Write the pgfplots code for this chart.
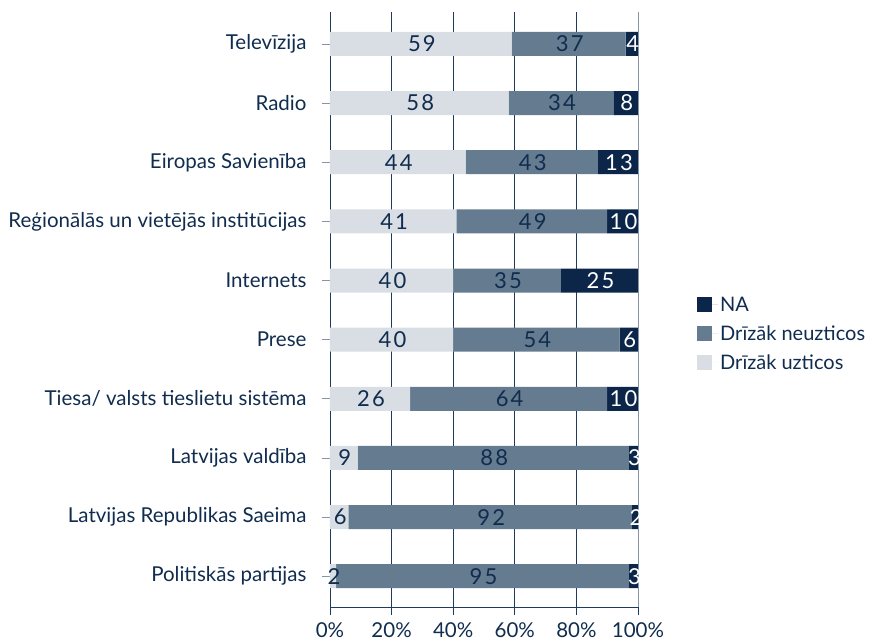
\documentclass[border=0pt]{standalone}
\usepackage{pgfplots}
\pgfplotsset{compat=1.18}
\usepackage{fontspec}
\setmainfont{Lato}
\newfontfamily\numfont[LetterSpace=10]{Lato}
\definecolor{cLight}{HTML}{D9DEE5}
\definecolor{cMid}{HTML}{657B90}
\definecolor{cDark}{HTML}{0B2648}
\definecolor{cGrid}{HTML}{1E3A5C}
\definecolor{cText}{HTML}{102C4E}
\definecolor{cGray}{HTML}{8595A5}
\begin{document}
\begin{tikzpicture}
\pgfplotsset{commonax/.style={
 scale only axis, width=308pt, height=595pt,
 xmin=0, xmax=100, ymin=-0.54, ymax=9.52, y dir=reverse}}
\begin{axis}[commonax,
 xbar stacked, bar width=24pt,
 ytick={0,...,9},
 yticklabels={Televīzija,Radio,Eiropas Savienība,Reģionālās un vietējās institūcijas,Internets,Prese,Tiesa/ valsts tieslietu sistēma,Latvijas valdība,Latvijas Republikas Saeima,Politiskās partijas},
 xtick={0,20,...,80}, extra x ticks={100}, extra x tick labels={100\%},
 extra x tick style={grid style={color=cGray, line width=0.8pt}},
 xticklabel={\pgfmathprintnumber{\tick}\%},
 xmajorgrids, grid style={cGrid, line width=0.8pt},
 axis x line*=bottom, axis y line*=left,
 axis line style={cGrid, line width=0.8pt},
 tick align=outside, major tick length=8pt,
 ytick style={cGray, line width=0.8pt},
 xtick style={cGrid, line width=0.8pt},
 ticklabel style={font=\fontsize{20.5}{24}\selectfont, text=cText},
 yticklabel style={xshift=-12pt},
 xticklabel style={yshift=-4pt},
 /pgf/number format/assume math mode=true,
 legend style={at={(axis description cs:1,0.459)}, anchor=west, xshift=59pt,
   draw=none, fill=none, font=\fontsize{20}{24}\selectfont, text=cText,
   row sep=9pt, inner sep=0pt},
 legend cell align=left,
 legend image code/.code={\fill[#1,draw=none] (0pt,-7pt) rectangle (15pt,8pt); \path (0pt,0pt) -- (21pt,0pt);},
 reverse legend,
]
\coordinate (ll) at (axis description cs:0,0);
\coordinate (ur) at (axis description cs:1,1);
\addplot[fill=cLight, draw=none] coordinates {(59,0) (58,1) (44,2) (41,3) (40,4) (40,5) (26,6) (9,7) (6,8) (2,9)};
\addplot[fill=cMid, draw=none] coordinates {(37,0) (34,1) (43,2) (49,3) (35,4) (54,5) (64,6) (88,7) (92,8) (95,9)};
\addplot[fill=cDark, draw=none] coordinates {(4,0) (8,1) (13,2) (10,3) (25,4) (6,5) (10,6) (3,7) (2,8) (3,9)};
\legend{Drīzāk uzticos, Drīzāk neuzticos, NA}
\end{axis}
\begin{axis}[commonax, hide axis]
\addplot[draw=none, mark=none, nodes near coords, point meta=explicit symbolic,
  nodes near coords style={anchor=center, xshift=1pt, font=\numfont\fontsize{22}{26}\selectfont, text=cText}]
  table[meta=l] {
x y l
29.5 0 59
29 1 58
22 2 44
20.5 3 41
20 4 40
20 5 40
13 6 26
4.5 7 9
3 8 6
1 9 2
77.5 0 37
75 1 34
65.5 2 43
65.5 3 49
57.5 4 35
67 5 54
58 6 64
53 7 88
52 8 92
49.5 9 95
};
\addplot[draw=none, mark=none, nodes near coords, point meta=explicit symbolic,
  nodes near coords style={anchor=center, xshift=1pt, font=\numfont\fontsize{22}{26}\selectfont, text=white}]
  table[meta=l] {
x y l
98 0 4
96 1 8
93.5 2 13
95 3 10
87.5 4 25
97 5 6
95 6 10
98.5 7 3
99 8 2
98.5 9 3
};
\end{axis}
\pgfresetboundingbox
\path[use as bounding box] ([xshift=-330pt,yshift=-36pt]ll) rectangle ([xshift=237pt,yshift=12pt]ur);
\end{tikzpicture}
\end{document}
